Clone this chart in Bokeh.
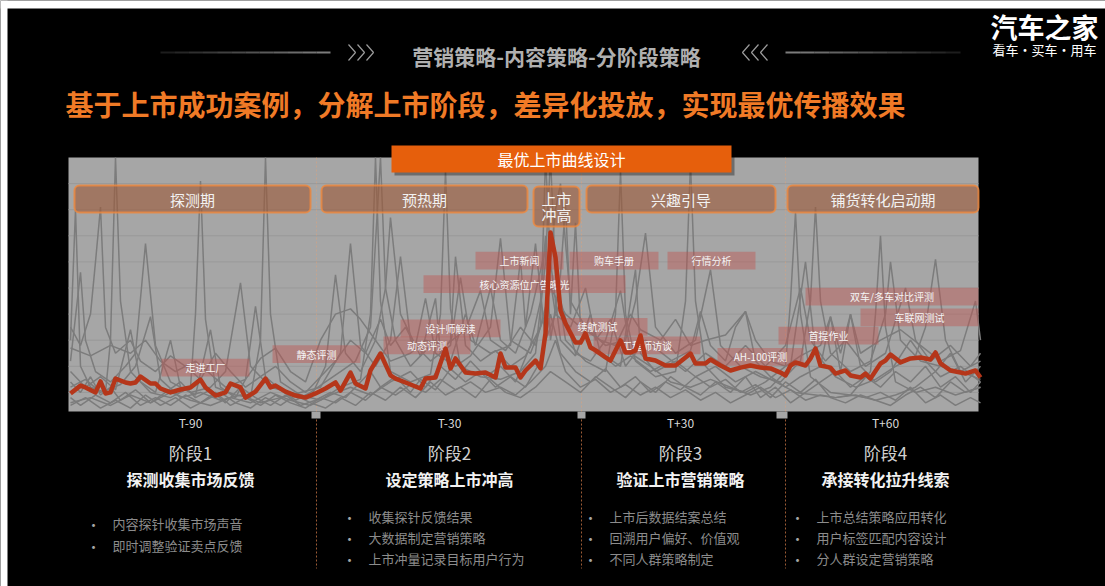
from bokeh.plotting import figure
from bokeh.models import Range1d
from bokeh.core.properties import value
from bokeh.embed import file_html
from bokeh.resources import INLINE

# ---------------- data ----------------
red_days = [0,2,3,5,6,7,8,9,11,12,13,14,16,17,18,20,22,24,26,27,29,31,32,34,35,37,39,40,41,43,
            45,47,49,51,53,54,56,57,59,60,62,64,65,67,70,71,73,75,76,77,79,81,83,85,86,87,89,90,91,93,
            94,95,96,97,98,99,101,102,103,104,105,107,108,110,111,112,113,114,115,117,119,121,124,125,127,128,130,132,134,136,
            138,140,142,143,144,145,147,148,149,150,152,153,155,156,158,159,160,162,163,164,166,168,170,172,173,174,176,178,179,181,182]
red_vals = [9.6,12.6,11.9,10.0,14.2,9.6,10.0,15.3,13.8,13.4,13.8,16.1,13.4,13.4,11.5,10.0,11.1,11.9,14.9,11.9,
            8.8,10.0,13.4,11.9,8.0,10.3,15.3,11.9,12.6,10.3,8.8,8.0,9.6,11.5,13.8,10.7,17.6,13.4,11.5,18.4,
            24.9,16.5,15.3,13.8,11.5,15.3,15.7,26.8,19.2,23.0,17.6,17.2,17.6,15.7,24.9,19.5,19.5,15.7,18.4,22.2,
            19.2,32.6,71.3,61.7,41.4,36.4,29.1,29.1,32.6,27.2,26.1,23.4,22.2,29.9,25.3,25.3,26.1,31.8,23.0,22.2,
            20.3,20.3,24.9,21.1,21.1,22.6,20.3,18.4,19.5,20.3,19.5,19.2,17.6,16.5,20.3,21.5,20.3,23.0,26.8,20.3,
            19.5,17.2,18.4,16.5,15.7,17.2,15.3,21.1,22.2,24.5,21.5,23.0,23.4,22.6,25.3,21.1,18.4,17.6,17.2,18.4,15.7]

gray_1 = [(0,30),(1,80),(2,20),(4,12),(7,10),(8,30),(9,100),(10,45),(12,18),(16,10),(20,8),(24,12),(25,40),(26,91),
          (27,38),(29,12),(33,9),(36,8),(38,30),(39,100),(40,40),(42,14),(46,9),(50,7),(54,12),(58,15),(60,40),(61,100),
          (62,45),(64,18),(68,14),(72,17),(74,40),(75,95),(76,42),(78,20),(82,16),(86,15),(90,18),(93,25),(95,60),(96,100),
          (97,55),(99,30),(103,22),(107,18),(109,40),(110,95),(111,40),(113,22),(117,16),(121,18),(123,45),(124,98),(125,45),
          (127,20),(131,12),(135,10),(139,14),(143,20),(144,45),(145,79),(146,40),(148,16),(152,10),(156,9),(160,18),
          (161,40),(162,70),(163,35),(165,14),(169,10),(173,12),(177,9),(182,12)]
gray_2 = [(0,22),(2,56),(3,30),(5,18),(8,14),(11,20),(13,25),(15,67),(17,28),(20,14),(24,10),(28,12),(31,18),(34,52),
          (36,20),(40,12),(44,10),(48,8),(51,20),(53,55),(55,25),(58,18),(61,30),(63,50),(64,77),(66,40),(69,28),(71,46),
          (73,25),(77,20),(80,24),(84,35),(86,69),(88,30),(92,25),(95,40),(97,80),(98,90),(100,45),(103,35),(107,28),
          (111,30),(113,45),(115,71),(117,35),(121,25),(125,30),(128,57),(130,28),(134,20),(138,16),(142,14),(146,22),
          (148,45),(149,81),(150,45),(152,25),(156,18),(160,22),(163,40),(164,60),(166,30),(170,22),(174,20),(178,18),(182,22)]
gray_3 = [(0,12),(3,15),(6,10),(10,13),(13,20),(16,39),(18,15),(22,8),(26,10),(30,7),(34,9),(38,6),(42,8),(46,10),
          (50,12),(54,25),(56,67),(58,28),(61,20),(64,30),(66,62),(68,30),(72,22),(76,28),(78,54),(80,30),(84,25),(88,28),
          (90,61),(91,35),(93,67),(95,30),(98,45),(101,25),(104,22),(107,30),(110,49),(112,25),(116,20),(120,14),(124,12),
          (128,15),(132,12),(136,9),(140,12),(144,20),(147,60),(149,25),(153,16),(157,12),(161,15),(165,20),(169,24),
          (171,35),(173,61),(175,30),(178,18),(182,15)]
gray_4 = [(0,27),(4,24),(8,28),(12,25),(15,30),(18,22),(21,18),(25,22),(28,17),(31,12),(35,15),(38,23),(41,27),(44,18),
          (47,14),(50,30),(53,40),(56,42),(58,38),(61,30),(64,22),(68,25),(71,30),(75,28),(79,34),(82,49),(84,30),(87,26),
          (90,35),(93,28),(96,50),(99,40),(102,35),(106,30),(109,28),(112,40),(114,34),(118,30),(121,38),(124,28),(127,30),
          (131,32),(135,41),(137,30),(140,22),(143,20),(146,24),(150,28),(152,39),(154,25),(156,40),(158,25),(162,30),
          (166,34),(170,28),(174,22),(178,26),(181,45),(182,30)]
gray_5 = [(0,8),(2,5),(5,9),(8,6),(11,10),(14,5),(17,8),(20,5),(23,9),(26,6),(29,10),(32,5),(35,8),(38,5),(41,9),(44,6),
          (47,4),(50,8),(53,6),(56,10),(59,7),(62,12),(65,9),(68,13),(71,10),(74,15),(77,11),(80,14),(83,10),(86,12),(89,9),
          (92,14),(95,20),(97,30),(99,18),(102,12),(105,15),(108,10),(111,13),(114,9),(117,12),(120,8),(123,11),(126,7),
          (129,10),(132,6),(135,9),(138,12),(141,8),(144,11),(147,7),(150,9),(153,8),(156,9),(159,8),(162,10),(165,7),
          (168,12),(171,6),(174,9),(177,5),(180,8),(182,6)]
gray_6 = [(0,14),(2,10),(4,16),(6,9),(8,12),(10,7),(13,11),(16,6),(19,10),(22,14),(25,8),(28,11),(31,6),(34,12),(37,8),
          (40,5),(43,9),(46,5),(49,7),(52,10),(55,8),(58,14),(60,18),(62,12),(65,16),(68,10),(70,15),(73,11),(76,19),(79,14),
          (82,18),(85,12),(88,16),(91,12),(94,22),(96,40),(98,25),(101,18),(104,14),(107,19),(110,12),(113,16),(116,10),
          (119,14),(122,11),(125,16),(128,12),(131,15),(134,10),(137,13),(140,8),(143,14),(146,10),(149,15),(152,8),(155,6),
          (158,9),(161,7),(164,5),(167,9),(170,12),(173,8),(176,14),(179,10),(182,12)]
gray_7 = [(0,18),(3,12),(6,16),(9,11),(12,34),(14,14),(17,10),(20,30),(22,12),(25,9),(28,34),(30,12),(33,8),(35,15),
          (37,43),(39,16),(42,11),(45,7),(48,10),(51,14),(54,18),(57,22),(60,35),(62,100),(63,50),(65,30),(68,20),(70,24),
          (73,46),(74,25),(76,30),(77,62),(79,28),(82,22),(85,26),(88,20),(91,24),(94,35),(95,100),(96,60),(98,30),(101,24),
          (104,40),(106,25),(109,20),(112,24),(116,18),(120,22),(124,26),(126,41),(128,28),(131,22),(133,35),(135,41),
          (137,22),(140,16),(143,12),(146,16),(150,20),(152,39),(154,18),(156,40),(158,20),(161,14),(164,18),(168,30),
          (171,22),(174,16),(178,20),(182,14)]
gray_8 = [(0,6),(4,8),(8,5),(12,9),(16,6),(20,10),(24,7),(28,5),(32,8),(36,6),(40,10),(44,7),(48,5),(52,9),(56,12),(60,9),
          (64,14),(68,18),(71,12),(74,20),(77,15),(80,22),(83,16),(86,20),(89,14),(92,28),(94,45),(95,70),(96,30),(98,55),
          (99,82),(100,40),(101,75),(102,35),(104,28),(107,24),(110,20),(113,57),(114,25),(117,18),(121,22),(125,16),
          (129,20),(133,14),(137,18),(141,14),(145,10),(149,9),(153,8),(157,9),(161,7),(165,9),(169,12),(173,18),(176,25),
          (179,14),(182,20)]
gray_9 = [(0,35),(2,28),(4,40),(5,60),(6,81),(7,35),(9,25),(12,30),(14,22),(17,18),(20,24),(23,20),(26,15),(29,25),
          (32,18),(35,12),(38,16),(41,20),(44,14),(47,10),(50,16),(53,22),(56,30),(59,25),(62,38),(64,28),(67,35),(70,24),
          (73,30),(76,22),(79,40),(81,28),(84,50),(86,30),(89,25),(92,40),(95,65),(97,40),(100,35),(103,50),(105,30),
          (108,38),(111,20),(115,30),(119,24),(123,18),(127,25),(131,20),(135,28),(139,20),(143,28),(146,50),(148,30),
          (151,22),(155,30),(159,20),(163,25),(167,50),(169,30),(172,22),(176,28),(180,20),(182,25)]
gray_10 = [(0,5),(3,8),(6,4),(9,7),(12,4),(15,9),(18,5),(21,8),(24,4),(27,7),(30,10),(33,6),(36,4),(39,8),(42,5),(45,9),
           (48,6),(51,4),(54,8),(57,5),(60,10),(63,7),(66,12),(69,8),(72,14),(75,9),(78,12),(81,8),(84,15),(87,10),(90,8),
           (93,12),(96,18),(99,14),(102,10),(105,16),(108,12),(111,8),(114,14),(117,10),(120,16),(123,12),(126,9),(129,14),
           (132,10),(135,16),(138,8),(141,12),(144,6),(147,10),(150,14),(153,18),(156,12),(159,16),(162,12),(165,18),
           (168,14),(171,20),(174,12),(177,16),(180,10),(182,14)]
gray_series = [gray_1, gray_2, gray_3, gray_4, gray_5, gray_6, gray_7, gray_8, gray_9, gray_10]

event_names = ["走进工厂", "静态评测", "动态评测", "设计师解读", "核心资源位广告曝光", "上市新闻", "购车手册",
               "行情分析", "续航测试", "工程师访谈", "AH-100评测", "首提作业", "双车/多车对比评测", "车联网测试"]
event_start = [18.2, 40.4, 62.6, 66.0, 70.6, 81.0, 99.8, 119.4, 95.4, 104.6, 129.4, 141.6, 147.0, 158.0]
event_end   = [35.8, 58.0, 80.0, 86.0, 111.0, 98.6, 117.6, 137.0, 115.4, 126.0, 146.6, 161.6, 181.6, 181.6]
event_level = [19.5, 24.7, 28.0, 34.5, 51.5, 60.5, 60.5, 60.5, 35.1, 28.0, 23.6, 31.8, 46.7, 38.7]

stage_names = ["探测期", "预热期", "上市冲高", "兴趣引导", "铺货转化启动期"]
t_labels = ["T-90", "T-30", "T+30", "T+60"]
phase_titles = ["阶段1", "阶段2", "阶段3", "阶段4"]
phase_goals = ["探测收集市场反馈", "设定策略上市冲高", "验证上市营销策略", "承接转化拉升线索"]
phase_points = [["内容探针收集市场声音", "即时调整验证卖点反馈"],
                ["收集探针反馈结果", "大数据制定营销策略", "上市冲量记录目标用户行为"],
                ["上市后数据结案总结", "回溯用户偏好、价值观", "不同人群策略制定"],
                ["上市总结策略应用转化", "用户标签匹配内容设计", "分人群设定营销策略"]]
header_text = "营销策略-内容策略-分阶段策略"
title_text = "基于上市成功案例，分解上市阶段，差异化投放，实现最优传播效果"
banner_text = "最优上市曲线设计"
logo_main = "汽车之家"
logo_sub = "看车·买车·用车"

# ---------------- layout ----------------
W, H = 1105, 586
FONT = "Noto Sans CJK SC"
X0, PX_DAY = 70.0, 5.0      # day 0 at pixel 70
Y0, PX_VAL = 418.0, 2.61    # value 0 at pixel 418
PANEL_L, PANEL_R, PANEL_T, PANEL_B = 68, 978, 157, 411

p = figure(width=W, height=H, x_range=Range1d(0, W), y_range=Range1d(H, 0),
           min_border=0, toolbar_location=None, output_backend="svg",
           x_axis_location=None, y_axis_location=None,
           background_fill_color="#000000", border_fill_color="#000000",
           outline_line_color=None)
p.xgrid.visible = False
p.ygrid.visible = False
p.extra_x_ranges = {"day": Range1d(-X0 / PX_DAY, (W - X0) / PX_DAY)}
p.extra_y_ranges = {"val": Range1d((Y0 - H) / PX_VAL, Y0 / PX_VAL)}


def txt(x, y, s, size, color, bold=False, align="center", **kw):
    xs = x if isinstance(x, list) else [x]
    ys = y if isinstance(y, list) else [y]
    ss = s if isinstance(s, list) else [s]
    p.text(x=xs, y=ys, text=ss, text_font=value(FONT), text_font_size=value(f"{size}px"),
           text_color=color, text_align=align, text_baseline="middle",
           text_font_style="bold" if bold else "normal", **kw)


# white page margins
p.quad(left=0, right=W, top=0, bottom=8, fill_color="white", line_color=None)
p.quad(left=0, right=7, top=0, bottom=H, fill_color="white", line_color=None)

# header
n = 12
for i in range(n):
    a = 0.15 + 0.75 * (i + 1) / n
    p.segment(x0=160 + i * 170 / n, x1=160 + (i + 1) * 170 / n, y0=52, y1=52, line_color="#8a8a8a", line_alpha=a, line_width=2)
    p.segment(x0=960 - i * 175 / n, x1=960 - (i + 1) * 175 / n, y0=52, y1=52, line_color="#8a8a8a", line_alpha=a, line_width=2)
p.multi_line(xs=[[348, 355, 348], [357, 364, 357], [366, 373, 366]], ys=[[44, 52, 60]] * 3, line_color="#9a9a9a", line_width=1.2)
p.multi_line(xs=[[749, 742, 749], [758, 751, 758], [767, 760, 767]], ys=[[44, 52, 60]] * 3, line_color="#9a9a9a", line_width=1.2)
txt(556, 55, header_text, 21, "#b0b0b0", bold=True)
txt(1044, 26, logo_main, 27, "#ffffff", bold=True)
txt(1044, 49, logo_sub, 13, "#ffffff")
txt(485, 103, title_text, 28, "#f07a26", bold=True)

# chart panel
p.quad(left=PANEL_L, right=PANEL_R, top=PANEL_T, bottom=PANEL_B, fill_color="#a6a6a6", line_color=None)
p.quad(left=[311, 577, 776], right=[320, 585, 787], top=PANEL_B, bottom=418, fill_color="#a6a6a6", line_color=None)
for v in range(10, 100, 10):
    p.segment(x0=PANEL_L, x1=PANEL_R, y0=v, y1=v, y_range_name="val", line_color="#999999", line_width=1)
p.segment(x0=[316, 581, 785], x1=[316, 581, 785], y0=PANEL_T, y1=PANEL_B, line_color="#e8a070", line_alpha=0.45, line_dash="2 2")
p.segment(x0=[316, 581, 785], x1=[316, 581, 785], y0=419, y1=568, line_color="#9b5a35", line_dash="2 2")

for s in gray_series:
    p.line(x=[d for d, _ in s], y=[v for _, v in s], x_range_name="day", y_range_name="val",
           line_color="#7c7c7c", line_width=1.5)

# stage boxes (pixel layout)
stage_boxes = [(74, 310, 185, 212), (321, 527, 185, 212), (533, 579, 186, 226), (586, 775, 185, 212), (787, 978, 185, 212)]
for (l, r, t, b) in stage_boxes:
    p.quad(left=l, right=r, top=t, bottom=b, fill_color="#9c5a3a", fill_alpha=0.62,
           line_color="#f0883c", line_alpha=0.8, line_width=2, border_radius=5)
for name, (l, r, t, b) in zip(stage_names, stage_boxes):
    if len(name) == 4 and name.startswith("上市"):
        txt((l + r) / 2, 198, name[:2], 15, "#f2f2f2")
        txt((l + r) / 2, 214, name[2:], 15, "#f2f2f2")
    else:
        txt((l + r) / 2, (t + b) / 2, name, 15, "#f2f2f2")

# event boxes (data units)
p.quad(left=event_start, right=event_end, top=[v + 3.4 for v in event_level], bottom=[v - 3.4 for v in event_level],
       x_range_name="day", y_range_name="val", fill_color="#c0504d", fill_alpha=0.42, line_color=None)
p.text(x=[(a + b) / 2 for a, b in zip(event_start, event_end)], y=event_level, text=event_names,
       x_range_name="day", y_range_name="val", text_font=value(FONT), text_font_size=value("10px"),
       text_color="#f5f5f5", text_align="center", text_baseline="middle")

# main curve
p.line(x=red_days, y=red_vals, x_range_name="day", y_range_name="val", line_color="#b5361a",
       line_width=4.5, line_join="round")

# banner
p.quad(left=394, right=734, top=148, bottom=175, fill_color="#000000", fill_alpha=0.35, line_color=None)
p.quad(left=391, right=731, top=145, bottom=172, fill_color="#e65f0c", line_color=None)
txt(561, 158.5, banner_text, 16, "#ffffff")

# bottom phases
cx = [190, 449, 680, 885]
txt(cx, [422] * 4, t_labels, 12, "#d9d9d9")
txt(cx, [452] * 4, phase_titles, 17, "#d0d0d0")
txt(cx, [478] * 4, phase_goals, 16, "#f2f2f2", bold=True)
bx = [93, 349, 590, 797]
for i, pts in enumerate(phase_points):
    ys = [523, 545] if len(pts) == 2 else [516, 537, 558]
    txt([bx[i]] * len(pts), ys, ["•"] * len(pts), 14, "#a6a6a6")
    txt([bx[i] + 19] * len(pts), ys, pts, 13, "#8c8c8c", align="left")

open("out.html", "w").write(file_html(p, INLINE))
